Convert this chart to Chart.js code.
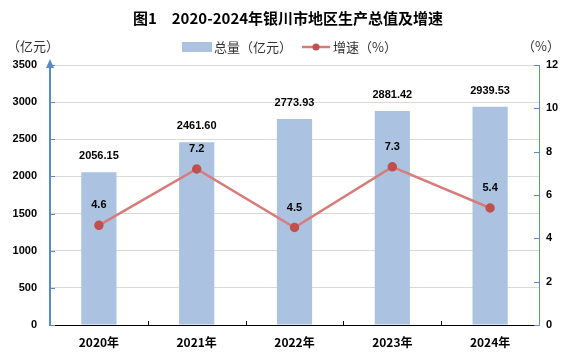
<!DOCTYPE html>
<html>
<head>
<meta charset="utf-8">
<script src="https://cdn.jsdelivr.net/npm/chart.js@4.4.1/dist/chart.umd.min.js"></script>
<style>
  html, body { margin: 0; padding: 0; background: #fff; }
  #wrap { width: 577px; height: 363px; }
</style>
</head>
<body>
<div id="wrap"><canvas id="chart"></canvas></div>
<script>
const years = ["2020年", "2021年", "2022年", "2023年", "2024年"];
const totals = [2056.15, 2461.60, 2773.93, 2881.42, 2939.53];
const growth = [4.6, 7.2, 4.5, 7.3, 5.4];
const leftTicks = [0, 500, 1000, 1500, 2000, 2500, 3000, 3500];
const rightTicks = [0, 2, 4, 6, 8, 10, 12];

const cjk = '"Noto Sans CJK SC", sans-serif';
const num = '"Liberation Sans", Arial, sans-serif';
const barColor = "#abc3e0";
const lineColor = "#d77b7b";
const dotColor = "#c0504d";
const axisBlue = "#5b8ac6";

const decor = {
  id: "decor",
  afterDraw(chart) {
    const ctx = chart.ctx;
    const a = chart.chartArea;
    const x = chart.scales.x;
    const y = chart.scales.y;
    const y1 = chart.scales.y1;
    ctx.save();

    // title
    ctx.fillStyle = "#000";
    ctx.textAlign = "center";
    ctx.textBaseline = "middle";
    ctx.font = "bold 15px " + cjk;
    ctx.fillText("图1　2020-2024年银川市地区生产总值及增速", 288, 18);

    // unit labels
    ctx.font = "13px " + cjk;
    ctx.fillStyle = "#333";
    ctx.fillText("（亿元）", 33, 46);
    ctx.fillText("（%）", 541, 46);

    // legend
    ctx.fillStyle = barColor;
    ctx.fillRect(182, 42, 30, 10);
    ctx.fillStyle = "#333";
    ctx.textAlign = "left";
    ctx.fillText("总量（亿元）", 214, 47);
    ctx.strokeStyle = lineColor;
    ctx.lineWidth = 2.5;
    ctx.beginPath();
    ctx.moveTo(302, 47);
    ctx.lineTo(330, 47);
    ctx.stroke();
    ctx.fillStyle = dotColor;
    ctx.beginPath();
    ctx.arc(316, 47, 3.5, 0, Math.PI * 2);
    ctx.fill();
    ctx.fillStyle = "#333";
    ctx.fillText("增速（%）", 333, 47);

    // inner tick marks
    ctx.lineWidth = 1;
    ctx.strokeStyle = axisBlue;
    leftTicks.forEach(v => {
      const py = Math.round(y.getPixelForValue(v)) + 0.5;
      ctx.beginPath(); ctx.moveTo(a.left, py); ctx.lineTo(a.left + 5, py); ctx.stroke();
    });
    rightTicks.forEach(v => {
      const py = Math.round(y1.getPixelForValue(v)) + 0.5;
      ctx.beginPath(); ctx.moveTo(a.right - 5, py); ctx.lineTo(a.right, py); ctx.stroke();
    });
    ctx.strokeStyle = "#000";
    for (let i = 1; i < years.length; i++) {
      const px = Math.round((x.getPixelForValue(i - 1) + x.getPixelForValue(i)) / 2) + 0.5;
      ctx.beginPath(); ctx.moveTo(px, a.bottom); ctx.lineTo(px, a.bottom - 4); ctx.stroke();
    }

    // arrow on left axis
    ctx.fillStyle = axisBlue;
    ctx.beginPath();
    ctx.moveTo(a.left, a.top - 6);
    ctx.lineTo(a.left - 4, a.top + 3);
    ctx.lineTo(a.left + 4, a.top + 3);
    ctx.closePath();
    ctx.fill();

    // data labels
    ctx.textAlign = "center";
    ctx.textBaseline = "middle";
    ctx.font = "bold 11px " + num;
    ctx.fillStyle = "#000";
    chart.getDatasetMeta(1).data.forEach((bar, i) => {
      ctx.fillText(totals[i].toFixed(2), bar.x, bar.y - 16);
    });
    chart.getDatasetMeta(0).data.forEach((pt, i) => {
      ctx.fillText(growth[i].toFixed(1), pt.x, pt.y - 20);
    });
    ctx.restore();
  }
};

new Chart(document.getElementById("chart"), {
  data: {
    labels: years,
    datasets: [
      {
        type: "line",
        label: "增速（%）",
        data: growth,
        yAxisID: "y1",
        borderColor: lineColor,
        borderWidth: 2.5,
        pointBackgroundColor: dotColor,
        pointBorderColor: dotColor,
        pointRadius: 3.5,
        tension: 0,
        order: 0,
      },
      {
        type: "bar",
        label: "总量（亿元）",
        data: totals,
        yAxisID: "y",
        backgroundColor: barColor,
        barPercentage: 0.72,
        categoryPercentage: 0.5,
        order: 1,
      },
    ],
  },
  options: {
    responsive: true,
    maintainAspectRatio: false,
    animation: false,
    layout: { padding: { top: 65, left: 0, right: 0, bottom: 0 } },
    plugins: { legend: { display: false }, title: { display: false }, tooltip: { enabled: false } },
    scales: {
      x: {
        grid: { display: false, drawTicks: false },
        border: { color: "#000", width: 1 },
        ticks: { color: "#000", padding: 10, font: { family: cjk, size: 12, weight: "bold" } },
        afterFit: (s) => { s.height = 38; },
      },
      y: {
        position: "left",
        min: 0,
        max: 3500,
        afterBuildTicks: (s) => { s.ticks = leftTicks.map(v => ({ value: v })); },
        grid: { color: "#d9d9d9", drawTicks: false },
        border: { color: axisBlue, width: 2 },
        ticks: { color: "#000", padding: 13, font: { family: num, size: 11, weight: "bold" }, callback: (v) => String(v) },
        afterFit: (s) => { s.width = 50; },
      },
      y1: {
        position: "right",
        min: 0,
        max: 12,
        afterBuildTicks: (s) => { s.ticks = rightTicks.map(v => ({ value: v })); },
        grid: { drawOnChartArea: false, drawTicks: false },
        border: { color: axisBlue, width: 1 },
        ticks: { color: "#000", padding: 7, font: { family: num, size: 11, weight: "bold" }, callback: (v) => String(v) },
        afterFit: (s) => { s.width = 38; },
      },
    },
  },
  plugins: [decor],
});
</script>
</body>
</html>
